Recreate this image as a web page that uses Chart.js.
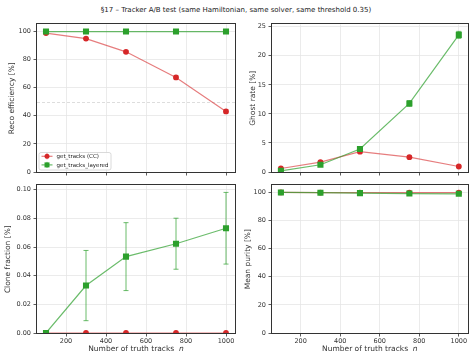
<!DOCTYPE html>
<html><head><meta charset="utf-8">
<script src="https://cdn.jsdelivr.net/npm/chart.js@4.4.1/dist/chart.umd.min.js"></script>
<style>
html,body{margin:0;padding:0;background:#fff;}
#wrap{position:relative;width:472px;height:354px;overflow:hidden;background:#fff;}
canvas{position:absolute;}
#title{position:absolute;left:0;top:5px;width:472px;text-align:center;font:7px "DejaVu Sans";color:#222;line-height:10px;white-space:nowrap;}
</style></head><body>
<div id="wrap">
<div id="title">§17 – Tracker A/B test (same Hamiltonian, same solver, same threshold 0.35)</div>
<canvas id="c1" width="240" height="172" style="left:0;top:18px"></canvas>
<canvas id="c2" width="236" height="172" style="left:236px;top:18px"></canvas>
<canvas id="c3" width="240" height="175" style="left:0;top:179px"></canvas>
<canvas id="c4" width="236" height="175" style="left:236px;top:179px"></canvas>
</div>
<script>
// ---- data ----
const nTracks = [100, 300, 500, 750, 1000];
const xTicks = [200, 400, 600, 800, 1000];
const seriesNames = ['get_tracks (CC)', 'get_tracks_layered'];

const recoCC = [98.8, 94.9, 85.5, 67.3, 43.1];
const recoCCErr = [0.3, 0.5, 0.8, 1.0, 1.1];
const recoLayered = [99.9, 99.9, 99.9, 99.9, 99.9];
const recoLayeredErr = [0.1, 0.1, 0.1, 0.1, 0.1];
const recoTicks = [0, 20, 40, 60, 80, 100];
const recoRef = 50;

const ghostCC = [0.6, 1.7, 3.5, 2.55, 0.95];
const ghostCCErr = [0.2, 0.2, 0.25, 0.2, 0.15];
const ghostLayered = [0.2, 1.25, 3.95, 11.8, 23.6];
const ghostLayeredErr = [0.15, 0.3, 0.4, 0.5, 0.6];
const ghostTicks = [0, 5, 10, 15, 20, 25];

const cloneCC = [0, 0, 0, 0, 0];
const cloneCCErr = [0, 0, 0, 0, 0];
const cloneLayered = [0, 0.0331, 0.0533, 0.0623, 0.0731];
const cloneLayeredErr = [0, 0.0245, 0.0237, 0.0178, 0.025];
const cloneTicks = [0, 0.02, 0.04, 0.06, 0.08, 0.10];

const purityCC = [100, 99.9, 99.9, 99.85, 99.8];
const purityCCErr = [0, 0.05, 0.05, 0.05, 0.05];
const purityLayered = [100, 99.8, 99.5, 99.2, 99.0];
const purityLayeredErr = [0, 0.1, 0.1, 0.15, 0.15];
const purityTicks = [0, 20, 40, 60, 80, 100];

// ---- style ----
const RED = '#d62728', GREEN = '#2ca02c';
const RED_LINE = 'rgba(214,39,40,0.6)', GREEN_LINE = 'rgba(44,160,44,0.7)';
const FONT = 'DejaVu Sans';

const errorBarPlugin = {
  id: 'errbars',
  beforeDatasetsDraw(chart) {
    const ctx = chart.ctx, ca = chart.chartArea;
    const xs = chart.scales.x, ys = chart.scales.y;
    ctx.save();
    ctx.beginPath(); ctx.rect(ca.left, ca.top, ca.right - ca.left, ca.bottom - ca.top); ctx.clip();
    chart.data.datasets.forEach(ds => {
      if (!ds.errors) return;
      ctx.strokeStyle = ds.errColor; ctx.lineWidth = 1;
      ds.data.forEach((p, j) => {
        const e = ds.errors[j];
        if (!e) return;
        const x = xs.getPixelForValue(p.x);
        const y1 = ys.getPixelForValue(p.y + e), y2 = ys.getPixelForValue(p.y - e);
        ctx.beginPath();
        ctx.moveTo(x, y1); ctx.lineTo(x, y2);
        ctx.moveTo(x - 2.5, y1); ctx.lineTo(x + 2.5, y1);
        ctx.moveTo(x - 2.5, y2); ctx.lineTo(x + 2.5, y2);
        ctx.stroke();
      });
    });
    ctx.restore();
  }
};

const extrasPlugin = {
  id: 'extras',
  beforeDatasetsDraw(chart, args, opts) {
    if (opts.refLine === undefined) return;
    const ctx = chart.ctx, ca = chart.chartArea;
    const y = Math.round(chart.scales.y.getPixelForValue(opts.refLine)) + 0.5;
    ctx.save();
    ctx.strokeStyle = '#d4d4d4'; ctx.lineWidth = 0.8; ctx.setLineDash([3, 2]);
    ctx.beginPath(); ctx.moveTo(ca.left, y); ctx.lineTo(ca.right, y); ctx.stroke();
    ctx.restore();
  },
  afterDraw(chart, args, opts) {
    const ctx = chart.ctx, ca = chart.chartArea;
    ctx.save();
    // frame
    ctx.strokeStyle = '#333'; ctx.lineWidth = 1;
    ctx.strokeRect(Math.round(ca.left) - 0.5, Math.round(ca.top) - 0.5,
                   Math.round(ca.right - ca.left) + 1, Math.round(ca.bottom - ca.top) + 1);
    // x title
    if (opts.xTitle) {
      const t1 = 'Number of truth tracks  ', t2 = 'n';
      ctx.fillStyle = '#333'; ctx.textBaseline = 'middle'; ctx.textAlign = 'left';
      ctx.font = '7.5px "' + FONT + '"';
      const w1 = ctx.measureText(t1).width;
      ctx.font = 'italic 7.5px "' + FONT + '"';
      const w2 = ctx.measureText(t2).width;
      const x0 = (ca.left + ca.right) / 2 - (w1 + w2) / 2;
      const y = chart.height - 4.5;
      ctx.font = '7.5px "' + FONT + '"'; ctx.fillText(t1, x0, y);
      ctx.font = 'italic 7.5px "' + FONT + '"'; ctx.fillText(t2, x0 + w1, y);
    }
    // legend
    if (opts.legend) {
      const bx = ca.left + 1.5, by = ca.bottom - 20, bw = 72, bh = 17.5;
      ctx.fillStyle = 'rgba(255,255,255,0.85)'; ctx.strokeStyle = '#d0d0d0'; ctx.lineWidth = 0.8;
      ctx.beginPath(); ctx.roundRect(bx + 0.5, by + 0.5, bw, bh, 2); ctx.fill(); ctx.stroke();
      chart.data.datasets.forEach((ds, i) => {
        const yy = by + 4.3 + i * 8.6;
        const x1 = bx + 3, x2 = bx + 14, xc = (x1 + x2) / 2;
        ctx.strokeStyle = ds.borderColor; ctx.lineWidth = 1.2;
        ctx.beginPath(); ctx.moveTo(x1, yy); ctx.lineTo(x2, yy); ctx.stroke();
        ctx.strokeStyle = ds.errColor; ctx.lineWidth = 1;
        ctx.beginPath(); ctx.moveTo(xc, yy - 3); ctx.lineTo(xc, yy + 3); ctx.stroke();
        ctx.fillStyle = ds.pointBackgroundColor;
        ctx.beginPath();
        if (ds.pointStyle === 'rect') ctx.rect(xc - 2.5, yy - 2.5, 5, 5);
        else ctx.arc(xc, yy, 2.5, 0, Math.PI * 2);
        ctx.fill();
        ctx.fillStyle = '#222'; ctx.font = '5.5px "' + FONT + '"';
        ctx.textBaseline = 'middle'; ctx.textAlign = 'left';
        ctx.fillText(ds.label, bx + 18, yy + 0.3);
      });
    }
    ctx.restore();
  }
};

function mkDataset(label, vals, errs, color, lineColor, style, order) {
  return {
    label: label,
    data: nTracks.map((x, i) => ({ x: x, y: vals[i] })),
    errors: errs,
    errColor: lineColor,
    borderColor: lineColor,
    borderWidth: 1.2,
    backgroundColor: color,
    pointBackgroundColor: color,
    pointBorderColor: color,
    pointBorderWidth: 0,
    pointStyle: style,
    pointRadius: style === 'rect' ? 4.3 : 2.9,
    pointHoverRadius: style === 'rect' ? 4.3 : 2.9,
    tension: 0,
    order: order,
    clip: 0
  };
}

function build(id, o) {
  const c = document.getElementById(id);
  return new Chart(c, {
    type: 'line',
    data: {
      datasets: [
        mkDataset(seriesNames[0], o.cc, o.ccErr, RED, RED_LINE, 'circle', 1),
        mkDataset(seriesNames[1], o.lay, o.layErr, GREEN, GREEN_LINE, 'rect', 0)
      ]
    },
    options: {
      responsive: false, animation: false, devicePixelRatio: 1,
      layout: { padding: { top: o.padTop, right: o.padRight, left: 0, bottom: 0 } },
      plugins: {
        legend: { display: false }, tooltip: { enabled: false }, title: { display: false },
        extras: { refLine: o.refLine, legend: o.legend, xTitle: o.xTitle }
      },
      scales: {
        x: {
          type: 'linear', min: 55, max: 1045,
          afterBuildTicks: s => { s.ticks = xTicks.map(v => ({ value: v })); },
          afterFit: s => { s.height = o.xH; },
          grid: { color: '#e6e6e6', lineWidth: 0.8, tickColor: '#333', tickLength: 3.5, drawTicks: true },
          border: { display: false },
          ticks: {
            color: o.xTitle ? '#333' : 'rgba(0,0,0,0)', font: { family: FONT, size: 6.5 },
            padding: 1, maxRotation: 0, autoSkip: false,
            callback: v => String(v)
          }
        },
        y: {
          type: 'linear', min: 0, max: o.yMax,
          afterBuildTicks: s => { s.ticks = o.yTicks.map(v => ({ value: v })); },
          afterFit: s => { s.width = o.yW; },
          grid: { color: '#e6e6e6', lineWidth: 0.8, tickColor: '#333', tickLength: 3.5, drawTicks: true },
          border: { display: false },
          ticks: {
            color: '#333', font: { family: FONT, size: 6.5 }, padding: 2.5, autoSkip: false,
            callback: v => o.yDec ? v.toFixed(o.yDec) : String(v)
          },
          title: {
            display: true, text: o.yLabel, color: '#333',
            font: { family: FONT, size: 7.5 }, padding: { top: o.yTitlePad, bottom: 0 }
          }
        }
      }
    },
    plugins: [errorBarPlugin, extrasPlugin]
  });
}

build('c1', { cc: recoCC, ccErr: recoCCErr, lay: recoLayered, layErr: recoLayeredErr,
  yTicks: recoTicks, yMax: 105, yLabel: 'Reco efficiency [%]', yW: 37, yTitlePad: 7.5,
  padTop: 5, padRight: 5, xH: 18, refLine: recoRef, legend: true, xTitle: false });
build('c2', { cc: ghostCC, ccErr: ghostCCErr, lay: ghostLayered, layErr: ghostLayeredErr,
  yTicks: ghostTicks, yMax: 25.4, yLabel: 'Ghost rate [%]', yW: 36, yTitlePad: 13,
  padTop: 5, padRight: 2, xH: 18, legend: false, xTitle: false });
build('c3', { cc: cloneCC, ccErr: cloneCCErr, lay: cloneLayered, layErr: cloneLayeredErr,
  yTicks: cloneTicks, yMax: 0.103, yDec: 2, yLabel: 'Clone fraction [%]', yW: 37, yTitlePad: 3.5,
  padTop: 5, padRight: 5, xH: 21, legend: false, xTitle: true });
build('c4', { cc: purityCC, ccErr: purityCCErr, lay: purityLayered, layErr: purityLayeredErr,
  yTicks: purityTicks, yMax: 105, yLabel: 'Mean purity [%]', yW: 36, yTitlePad: 8,
  padTop: 5, padRight: 2, xH: 21, legend: false, xTitle: true });
</script>
</body></html>
